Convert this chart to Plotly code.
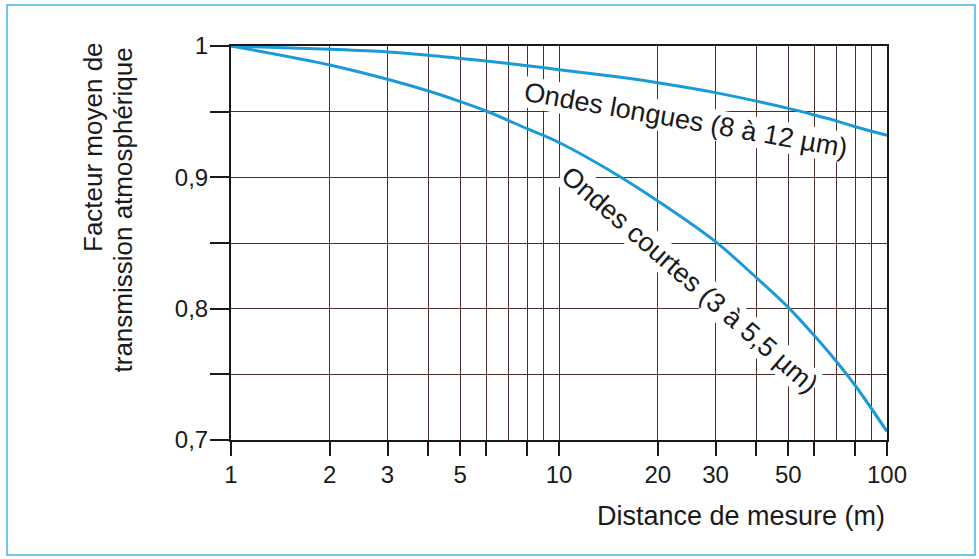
import plotly.graph_objects as go

# ---- data ----
distance_m = [1, 2, 3, 4, 5, 6, 8, 10, 15, 20, 30, 40, 50, 60, 70, 80, 100]
ondes_longues = [1.000, 0.9975, 0.9955, 0.993, 0.9905, 0.9885, 0.985, 0.982, 0.9765,
                 0.972, 0.9645, 0.958, 0.9525, 0.9475, 0.943, 0.9385, 0.932]
ondes_courtes = [1.000, 0.9856, 0.9747, 0.9657, 0.9577, 0.9505, 0.937, 0.9265, 0.902,
                 0.882, 0.851, 0.8235, 0.801, 0.7795, 0.760, 0.7415, 0.7065]

x_tickvals = [1, 2, 3, 4, 5, 6, 8, 10, 20, 30, 40, 50, 60, 80, 100]
x_ticktext = ["1", "2", "3", "", "5", "", "", "10", "20", "30", "", "50", "", "", "100"]
x_minor_grid = [7, 9, 70, 90]
y_tickvals = [0.70, 0.75, 0.80, 0.85, 0.90, 0.95, 1.00]
y_ticktext = ["0,7", "", "0,8", "", "0,9", "", "1"]

label_longues = "Ondes longues (8 à 12 µm)"
label_courtes = "Ondes courtes (3 à 5,5 µm)"
x_title = "Distance de mesure (m)"
y_title_1 = "Facteur moyen de"
y_title_2 = "transmission atmosphérique"

BLUE = "#1b9ad8"
GRID = "#4d2e2a"
INK = "#1a1a1a"
FONT = "Liberation Sans, Arial, sans-serif"

# plot area in page pixels: x 231..887, y 46..440
W, H = 656, 394
L, T = 231, 46
FIG_W, FIG_H = 979, 559

fig = go.Figure()
fig.add_trace(go.Scatter(x=distance_m, y=ondes_longues, mode="lines",
                         line=dict(color=BLUE, width=3, shape="spline", smoothing=1.0),
                         showlegend=False, hoverinfo="skip"))
fig.add_trace(go.Scatter(x=distance_m, y=ondes_courtes, mode="lines",
                         line=dict(color=BLUE, width=3, shape="spline", smoothing=1.0),
                         showlegend=False, hoverinfo="skip"))

fig.add_annotation(text=label_longues, x=1.387, y=0.9437, xref="x", yref="y",
                   showarrow=False, textangle=10, bgcolor="white",
                   font=dict(size=27, color=INK, family=FONT), borderpad=0)
fig.add_annotation(text=label_courtes, x=1.399, y=0.8218, xref="x", yref="y",
                   showarrow=False, textangle=41, bgcolor="white",
                   font=dict(size=27, color=INK, family=FONT), borderpad=0)

# axis titles
fig.add_annotation(text=x_title, xref="paper", yref="paper", x=1, y=0,
                   xanchor="right", yanchor="middle", yshift=-76, showarrow=False,
                   font=dict(size=27, color=INK, family=FONT))
fig.add_annotation(text=y_title_1, xref="paper", yref="paper",
                   x=(93 - L) / W, y=(T + H - 40) / H, xanchor="center", yanchor="top",
                   textangle=-90, showarrow=False,
                   font=dict(size=26, color=INK, family=FONT))
fig.add_annotation(text=y_title_2, xref="paper", yref="paper",
                   x=(122 - L) / W, y=(T + H - 46) / H, xanchor="center", yanchor="top",
                   textangle=-90, showarrow=False,
                   font=dict(size=26, color=INK, family=FONT))

# outer light-blue frame
fig.add_shape(type="rect", xref="paper", yref="paper",
              x0=(7 - L) / W, x1=(975 - L) / W,
              y0=(T + H - 555) / H, y1=(T + H - 5) / H,
              line=dict(color="#3fb3e8", width=1.5), layer="below")

fig.update_layout(
    width=FIG_W, height=FIG_H,
    margin=dict(l=L, r=FIG_W - L - W, t=T, b=FIG_H - T - H),
    paper_bgcolor="white", plot_bgcolor="white",
    font=dict(family=FONT, size=24, color=INK),
    xaxis=dict(type="log", range=[0, 2],
               tickmode="array", tickvals=x_tickvals, ticktext=x_ticktext,
               ticks="outside", ticklen=14, tickwidth=1.5, tickcolor=INK,
               showgrid=True, gridcolor=GRID, gridwidth=1.3,
               minor=dict(tickmode="array", tickvals=x_minor_grid, ticks="",
                          showgrid=True, gridcolor=GRID, gridwidth=1.3),
               showline=True, linecolor=INK, linewidth=2, mirror=True,
               zeroline=False, tickfont=dict(size=24), ticklabelstandoff=-2),
    yaxis=dict(range=[0.7, 1.0],
               tickmode="array", tickvals=y_tickvals, ticktext=y_ticktext,
               ticks="outside", ticklen=19, tickwidth=1.5, tickcolor=INK,
               showgrid=True, gridcolor=GRID, gridwidth=1.3,
               showline=True, linecolor=INK, linewidth=2, mirror=True,
               zeroline=False, tickfont=dict(size=24), ticklabelstandoff=-3),
)

# remove the browser's default 8px body margin so the figure fills the window
fig.write_html("out.html",
               config={"displayModeBar": False},
               post_script="document.body.style.margin='0';document.body.style.overflow='hidden';")
